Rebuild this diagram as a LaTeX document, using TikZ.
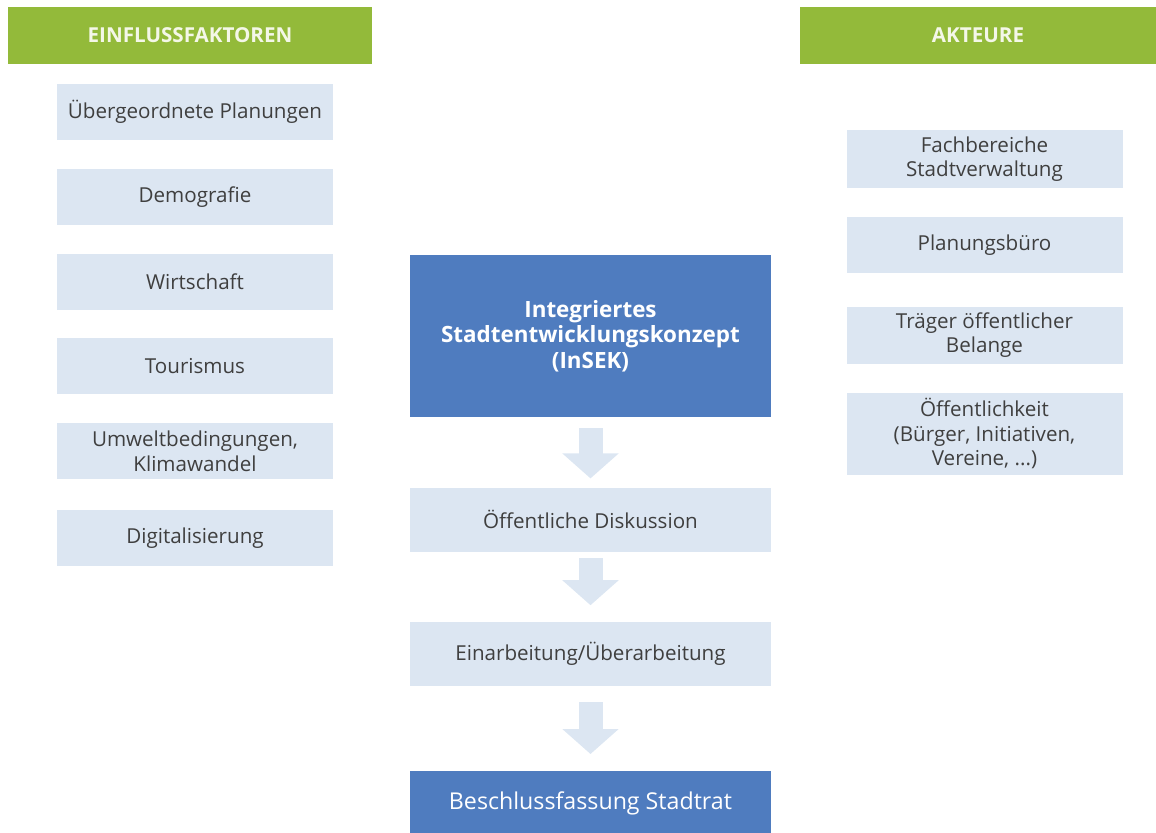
\documentclass[tikz,border=0pt]{standalone}
\usepackage{fontspec}
\setmainfont{Open Sans}
\usepackage{xcolor}
\usepackage{tikz}
\usetikzlibrary{arrows.meta,positioning}
\definecolor{cGreen}{HTML}{93BA3A}
\definecolor{cBlue}{HTML}{4F7CBF}
\definecolor{cSoft}{HTML}{DCE6F2}
\definecolor{cText}{HTML}{3F3F3F}
\definecolor{cHead}{HTML}{F4F7E8}
\tikzset{
  head/.style  = {rectangle, fill=cGreen, text=cHead, minimum height=28.5pt,
                  font=\fontsize{10.3}{12}\selectfont\bfseries, inner sep=0pt},
  item/.style  = {rectangle, fill=cSoft, text=cText, minimum width=138pt,
                  minimum height=28pt, align=center, inner sep=3pt,
                  font=\fontsize{10.3}{12.2}\selectfont},
  main/.style  = {rectangle, fill=cBlue, text=white, minimum width=180.5pt,
                  align=center, inner sep=3pt, font=\fontsize{11.2}{12.8}\selectfont},
  proc/.style  = {item, minimum width=180.5pt, minimum height=32pt},
  flw/.style   = {draw=cSoft, line width=12pt, -{Triangle[length=12.5pt, width=27.5pt]}},
}
\begin{document}
\begin{tikzpicture}[node distance=14pt]
  \useasboundingbox (0,0) rectangle (578pt,-416pt);
  % Einflussfaktoren
  \node[head, minimum width=182pt] (hl) at (95pt,-17.75pt) {EINFLUSSFAKTOREN};
  \node[item] (f1) at (97.5pt,-56pt) {Übergeordnete Planungen};
  \node[item, below=of f1] (f2) {Demografie};
  \node[item, below=of f2] (f3) {Wirtschaft};
  \node[item, below=of f3] (f4) {Tourismus};
  \node[item, below=of f4] (f5) {Umweltbedingungen,\\Klimawandel};
  \node[item, below=15pt of f5] (f6) {Digitalisierung};
  % Akteure
  \node[head, minimum width=178pt] (hr) at (489pt,-17.75pt) {AKTEURE};
  \node[item, minimum height=29pt] (a1) at (492.25pt,-79.5pt) {Fachbereiche\\Stadtverwaltung};
  \node[item, below=of a1] (a2) {Planungsbüro};
  \node[item, below=16.5pt of a2] (a3) {Träger öffentlicher\\Belange};
  \node[item, below=of a3] (a4) {Öffentlichkeit\\(Bürger, Initiativen,\\Vereine, ...)};
  % Ablauf
  \node[main, minimum height=81pt] (insek) at (295.25pt,-168pt)
    {\bfseries Integriertes\\\bfseries Stadtentwicklungskonzept\\\bfseries (InSEK)};
  \node[proc, below=35pt of insek] (disk) {Öffentliche Diskussion};
  \node[proc, below=34.5pt of disk] (einarb) {Einarbeitung/Überarbeitung};
  \node[main, below=42.5pt of einarb, minimum height=31.5pt,
        font=\fontsize{11.6}{13}\selectfont] (beschl) {Beschlussfassung Stadtrat};

  \draw[flw, shorten <=5.5pt, shorten >=4.5pt] (insek) -- (disk);
  \draw[flw, shorten <=3pt, shorten >=8pt] (disk) -- (einarb);
  \draw[flw, shorten <=8pt, shorten >=8.5pt] (einarb) -- (beschl);
\end{tikzpicture}
\end{document}
